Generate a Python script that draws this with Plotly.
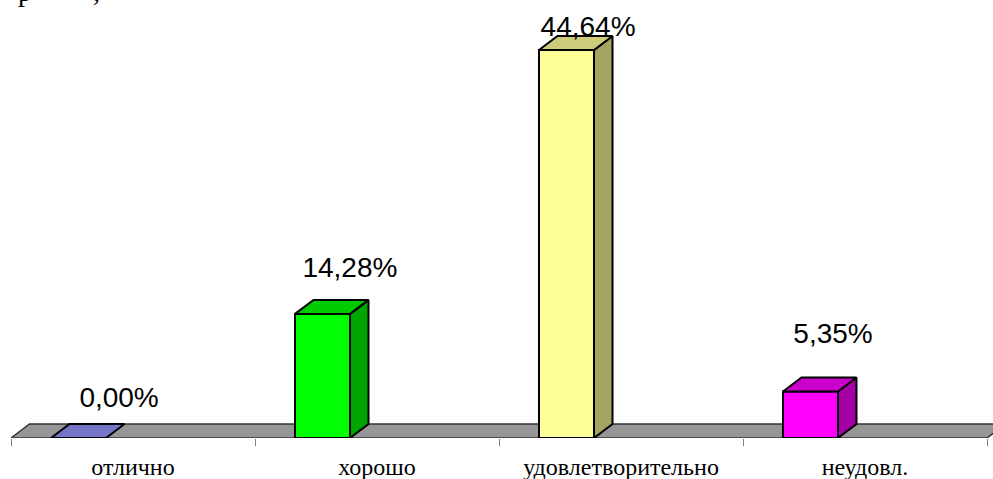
import plotly.graph_objects as go

categories = ["отлично", "хорошо", "удовлетворительно", "неудовл."]
values = [0.00, 14.28, 44.64, 5.35]
value_labels = ["0,00%", "14,28%", "44,64%", "5,35%"]
front_colors = ["#7676C8", "#00FF00", "#FFFF99", "#FF00FF"]
top_colors = ["#7676C8", "#00CC00", "#CCCC7A", "#CC00CC"]
side_colors = ["#7676C8", "#00A500", "#A5A563", "#A500A5"]
label_x = [0.443, 1.389, 2.365, 3.369]
label_y = [4.35, 19.35, 47.1, 11.75]
clipped_text = ["р", ","]
clipped_x = [0.057, 0.352]

W, H = 993, 479
X0, BASE = 11, 438
PX_PER_CAT = 244
PX_PER_VAL = 388 / 44.64
BAR_LEFT = 40 / PX_PER_CAT
BAR_W = 55 / PX_PER_CAT
DX = 18.5 / PX_PER_CAT
DY = 14 / PX_PER_VAL
EDGE = "#000000"

fig = go.Figure()


def poly(xs, ys, fill, lw=1.6, color=EDGE):
    fig.add_trace(go.Scatter(
        x=xs + xs[:1], y=ys + ys[:1], mode="lines", fill="toself", fillcolor=fill,
        line=dict(color=color, width=lw), hoverinfo="skip", showlegend=False,
        cliponaxis=False,
    ))


n = len(categories)
poly([0, n, n + DX, DX], [0, 0, DY, DY], "#969696", lw=1.5, color="#333333")

for i, v in enumerate(values):
    l = i + BAR_LEFT
    r = l + BAR_W
    if v > 0:
        poly([l, r, r, l], [0, 0, v, v], front_colors[i], lw=2)
        poly([r, r + DX, r + DX, r], [0, DY, v + DY, v], side_colors[i], lw=2)
    poly([l, r, r + DX, l + DX], [v, v, v + DY, v + DY], top_colors[i], lw=2)

fig.add_trace(go.Scatter(
    x=label_x, y=label_y, mode="text", text=value_labels, textposition="middle center",
    textfont=dict(family="Liberation Sans", size=28, color="#000000"),
    hoverinfo="skip", showlegend=False, cliponaxis=False,
))

fig.update_layout(
    width=W, height=H, paper_bgcolor="#ffffff", plot_bgcolor="#ffffff",
    margin=dict(l=0, r=0, t=0, b=H - BASE, pad=0), showlegend=False,
    xaxis=dict(
        range=[-X0 / PX_PER_CAT, (W - X0) / PX_PER_CAT],
        tickmode="array", tickvals=[i + 0.5 for i in range(n)], ticktext=categories,
        ticks="", showgrid=False, zeroline=False, showline=False,
        tickfont=dict(family="Liberation Serif", size=24, color="#000000"),
        ticklabelstandoff=12,
        minor=dict(tickmode="array", tickvals=list(range(n + 1)), ticks="outside",
                   ticklen=7, tickwidth=1, tickcolor="#808080", showgrid=False),
    ),
    yaxis=dict(range=[0, BASE / PX_PER_VAL], visible=False),
    annotations=[
        dict(text=t, x=x, y=1.0, xref="x", yref="paper", xanchor="center",
             yanchor="bottom", showarrow=False, yshift=-9,
             font=dict(family="Liberation Serif", size=28, color="#000000"))
        for t, x in zip(clipped_text, clipped_x)
    ],
)

fig.write_html(
    "out.html",
    config={"displayModeBar": False},
    post_script="document.body.style.margin='0';document.documentElement.style.overflow='hidden';",
)
